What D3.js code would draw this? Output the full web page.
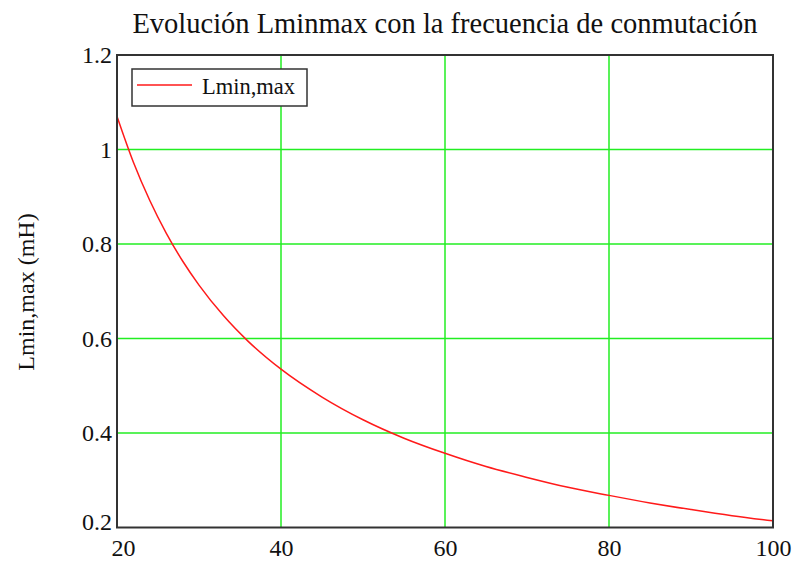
<!DOCTYPE html>
<html>
<head>
<meta charset="utf-8">
<script src="https://cdn.jsdelivr.net/npm/d3@7"></script>
<style>
  body { margin: 0; background: #fff; }
  svg { font-family: "Liberation Serif", "DejaVu Serif", serif; }
</style>
</head>
<body>
<svg id="chart" width="800" height="561"></svg>
<script>
// frecuencia de conmutacion (kHz) and Lmin,max (mH)
const freq = [20, 22, 24, 26, 28, 30, 33, 36, 40, 45, 50, 55, 60, 65, 70, 75, 80, 85, 90, 95, 100];
const lminmax = [1.07, 0.973, 0.892, 0.823, 0.764, 0.713, 0.648, 0.594, 0.535, 0.476, 0.428, 0.389, 0.357, 0.329, 0.306, 0.285, 0.268, 0.252, 0.238, 0.225, 0.214];
const xTicks = [20, 40, 60, 80, 100];
const yTicks = [0.2, 0.4, 0.6, 0.8, 1, 1.2];

const margin = { top: 55, right: 27, bottom: 33.5, left: 117 };
const width = 800 - margin.left - margin.right;
const height = 561 - margin.top - margin.bottom;

const svg = d3.select('#chart');
const g = svg.append('g')
  .attr('transform', `translate(${margin.left}, ${margin.top})`);

const x = d3.scaleLinear().domain([20, 100]).range([0, width]);
const y = d3.scaleLinear().domain([0.2, 1.2]).range([height, 0]);

// grid
g.append('g')
  .selectAll('line')
  .data(xTicks.slice(1, -1))
  .enter().append('line')
  .attr('x1', d => x(d)).attr('x2', d => x(d))
  .attr('y1', 0).attr('y2', height)
  .attr('stroke', '#22ee22').attr('stroke-width', 1.5);

g.append('g')
  .selectAll('line')
  .data(yTicks.slice(1, -1))
  .enter().append('line')
  .attr('y1', d => y(d)).attr('y2', d => y(d))
  .attr('x1', 0).attr('x2', width)
  .attr('stroke', '#22ee22').attr('stroke-width', 1.5);

// curve
const pts = freq.map((f, i) => [f, lminmax[i]]);
const line = d3.line()
  .x(d => x(d[0]))
  .y(d => y(d[1]))
  .curve(d3.curveMonotoneX);

g.append('path')
  .datum(pts)
  .attr('d', line)
  .attr('fill', 'none')
  .attr('stroke', '#ff1a1a')
  .attr('stroke-width', 1.5);

// frame
g.append('rect')
  .attr('x', 0).attr('y', 0)
  .attr('width', width).attr('height', height)
  .attr('fill', 'none')
  .attr('stroke', '#333')
  .attr('stroke-width', 2);

// axes (labels only, no tick marks)
const xAxis = g.append('g')
  .attr('transform', `translate(0, ${height})`)
  .call(d3.axisBottom(x).tickValues(xTicks).tickSize(0).tickPadding(11).tickFormat(d3.format('d')));
xAxis.select('.domain').remove();
xAxis.selectAll('text')
  .attr('font-family', '"Liberation Serif", serif')
  .attr('font-size', 24)
  .attr('fill', '#111');
xAxis.selectAll('.tick').filter(d => d === 20).select('text').attr('dx', 6);

const yAxis = g.append('g')
  .call(d3.axisLeft(y).tickValues(yTicks).tickSize(0).tickPadding(5).tickFormat(d => d3.format('')(d)));
yAxis.select('.domain').remove();
yAxis.selectAll('text')
  .attr('font-family', '"Liberation Serif", serif')
  .attr('font-size', 24)
  .attr('fill', '#111');
yAxis.selectAll('.tick').filter(d => d === 0.2).select('text').attr('dy', '0.1em');

// title
svg.append('text')
  .attr('x', 445)
  .attr('y', 33)
  .attr('text-anchor', 'middle')
  .attr('font-size', 28.5)
  .attr('fill', '#111')
  .text('Evolución Lminmax con la frecuencia de conmutación');

// y label
svg.append('text')
  .attr('transform', `translate(34, 292) rotate(-90)`)
  .attr('text-anchor', 'middle')
  .attr('font-size', 24)
  .attr('fill', '#111')
  .text('Lmin,max (mH)');

// legend
const legend = svg.append('g').attr('transform', 'translate(132, 69)');
legend.append('rect')
  .attr('width', 175).attr('height', 37)
  .attr('fill', '#fff')
  .attr('stroke', '#333').attr('stroke-width', 1.5);
legend.append('line')
  .attr('x1', 5).attr('x2', 60)
  .attr('y1', 16).attr('y2', 16)
  .attr('stroke', '#ff1a1a').attr('stroke-width', 1.5);
legend.append('text')
  .attr('x', 70).attr('y', 25)
  .attr('font-size', 22.5)
  .attr('fill', '#111')
  .text('Lmin,max');
</script>
</body>
</html>
